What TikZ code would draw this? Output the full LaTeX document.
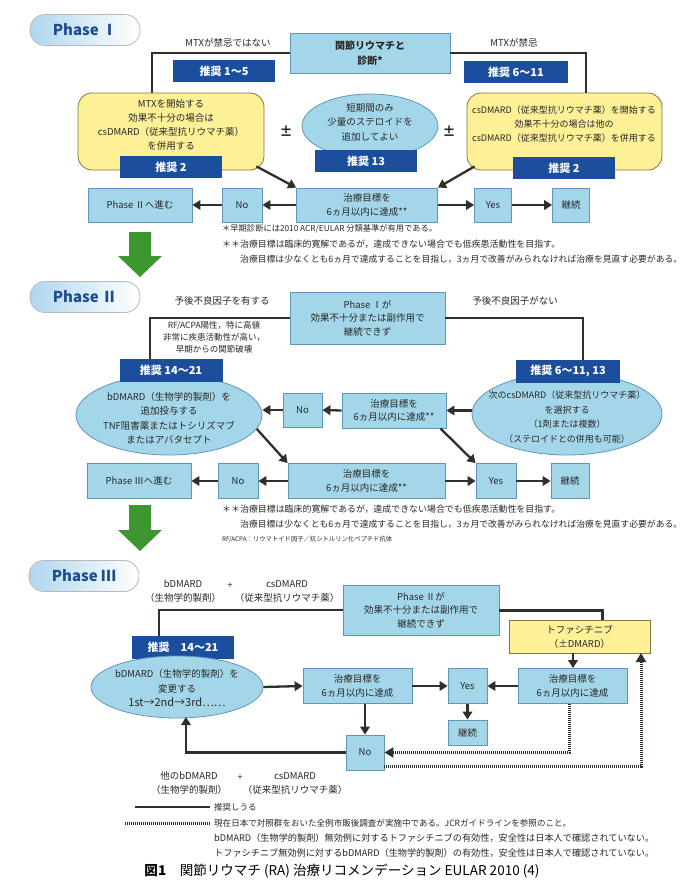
\documentclass[tikz,border=0pt]{standalone}
\usepackage{fontspec}
\setmainfont{Noto Sans CJK JP}
\usetikzlibrary{arrows.meta,calc,shapes.geometric}
\definecolor{lblue}{RGB}{164,214,234}
\definecolor{bblue}{RGB}{96,150,185}
\definecolor{dblue}{RGB}{28,78,158}
\definecolor{yel}{RGB}{253,240,150}
\definecolor{ybord}{RGB}{130,118,70}
\definecolor{lnc}{RGB}{48,48,40}
\definecolor{grn}{RGB}{62,150,48}
\definecolor{pillb}{RGB}{175,214,238}
\definecolor{ptxt}{RGB}{30,75,140}
\definecolor{txt}{RGB}{40,40,40}
\newcommand\fsz[2]{\fontsize{#1}{#2}\selectfont}
\newcommand\fitw[2]{\resizebox{#1}{!}{#2}}
\tikzset{
 lb/.style={draw=bblue, fill=lblue, line width=0.8pt, align=center, inner sep=0pt, text=txt, font=\fsz{9.5}{13.5}},
 rec/.style={fill=dblue, text=white, font=\bfseries\fsz{11}{13}, inner sep=0pt, minimum height=22pt},
 yelbox/.style={draw=ybord, fill=yel, line width=0.8pt, rounded corners=14pt, inner sep=0pt},
 ell/.style={ellipse, draw=bblue, fill=lblue, line width=0.8pt, inner sep=0pt},
 ln/.style={draw=lnc, line width=2.3pt},
 arr/.style={ln, -{Triangle[width=9.5pt,length=8pt]}},
 dot/.style={draw=lnc, line width=3pt, dash pattern=on 1.1pt off 0.9pt},
 darr/.style={dot, -{Triangle[width=10pt,length=9pt]}},
 lbl/.style={font=\fsz{9.5}{13}, text=txt, align=center, inner sep=0pt},
 note/.style={font=\fsz{8.5}{10}, text=txt, anchor=west, inner sep=0pt},
 pill/.style={draw=gray!55, line width=0.8pt, rounded corners=15pt, left color=pillb, right color=white, minimum width=110pt, minimum height=31pt, font=\bfseries\fsz{15}{16}, text=ptxt},
}
\begin{document}
\begin{tikzpicture}[x=1pt,y=-1pt]
\useasboundingbox (0,0) rectangle (684,881);
\fill[white] (0,0) rectangle (684,881);

%% ---------------- Phase I ----------------
\node[pill] (ph1) at (85,30) {Phase Ⅰ};
\node[lb, minimum width=160pt, minimum height=40pt, font=\bfseries\fsz{10}{15}] (top1) at (370,53) {関節リウマチと\\診断*};
\node[lbl] (l1a) at (228,43) {MTXが禁忌ではない};
\node[lbl] (l1b) at (514,43) {MTXが禁忌};
\node[rec, minimum width=102pt] (r15) at (224,71) {推奨 1～5};
\node[rec, minimum width=104pt] (r611) at (516,72) {推奨 6～11};

\node[yelbox, minimum width=186pt, minimum height=77pt] (y1L) at (171,131.5) {};
\node[lbl, font=\fsz{9.5}{14}] (y1Lt) at (171,125) {MTXを開始する\\効果不十分の場合は\\csDMARD（従来型抗リウマチ薬）\\を併用する};
\node[rec, minimum width=102pt] (r2L) at (171,167) {推奨 2};

\node[ell, minimum width=136pt, minimum height=64pt] (e1) at (370,126) {};
\node[lbl, font=\fsz{9.5}{14.5}] (e1t) at (370,122) {短期間のみ\\少量のステロイドを\\追加してよい};
\node[rec, minimum width=102pt] (r13) at (366,161) {推奨 13};

\node[lbl, font=\bfseries\fsz{13}{13}] (pm1) at (286,131) {±};
\node[lbl, font=\bfseries\fsz{13}{13}] (pm2) at (449,131) {±};

\node[yelbox, minimum width=195pt, minimum height=77pt] (y1R) at (564.5,131.5) {};
\node[lbl, font=\fsz{9}{14}] (y1Rt) at (564,124) {csDMARD（従来型抗リウマチ薬）を開始する\\効果不十分の場合は他の\\csDMARD（従来型抗リウマチ薬）を併用する};
\node[rec, minimum width=102pt] (r2R) at (564,168) {推奨 2};

\coordinate (j1) at (152,93);
\coordinate (j2) at (586,93);
\draw[ln] (top1.west) -| (j1);
\draw[ln] (top1.east) -| (j2);

\node[lb, minimum width=104pt, minimum height=34pt] (go2) at (140,205) {Phase Ⅱへ進む};
\node[lb, minimum width=40pt, minimum height=34pt] (no1) at (242,205) {No};
\node[lb, minimum width=141pt, minimum height=34pt] (goal1) at (367,205) {治療目標を\\6ヵ月以内に達成**};
\node[lb, minimum width=37pt, minimum height=34pt] (yes1) at (493,205) {Yes};
\node[lb, minimum width=37pt, minimum height=34pt] (cont1) at (571,205) {継続};

\draw[arr] (goal1.west) -- (no1.east);
\draw[arr] (no1.west) -- (go2.east);
\draw[arr] (goal1.east) -- (yes1.west);
\draw[arr] (yes1.east) -- (cont1.west);
\draw[arr] ($(y1L.south east)+(-8,-4)$) -- (goal1.north west);
\draw[arr] ($(y1R.south west)+(8,-4)$) -- (goal1.north east);

\node[note] (n1a) at (222,229) {\fitw{215pt}{＊早期診断には2010 ACR/EULAR 分類基準が有用である。}};
\node[note] (n1b) at (222,244) {\fitw{338pt}{＊＊治療目標は臨床的寛解であるが，達成できない場合でも低疾患活動性を目指す。}};
\node[note] (n1c) at (240,259) {\fitw{442pt}{治療目標は少なくとも6ヵ月で達成することを目指し，3ヵ月で改善がみられなければ治療を見直す必要がある。}};

\fill[grn] (129,232) -- (151,232) -- (151,256) -- (162,256) -- (140,277) -- (118,256) -- (129,256) -- cycle;

%% ---------------- Phase II ----------------
\node[pill] (ph2) at (85,297) {Phase Ⅱ};
\node[lb, minimum width=155pt, minimum height=52pt] (top2) at (367.5,318) {Phase Ⅰが\\効果不十分または副作用で\\継続できず};
\node[lbl] (l2a) at (222,301) {予後不良因子を有する};
\node[lbl] (l2b) at (515,301) {予後不良因子がない};
\node[lbl, font=\fsz{8.5}{12}] (rf) at (214,337) {RF/ACPA陽性，特に高値\\非常に疾患活動性が高い，\\早期からの関節破壊};

\node[ell, minimum width=186pt, minimum height=80pt] (ellL2) at (169,415) {};
\node[lbl, font=\fsz{9.5}{14.5}] (ellL2t) at (169,418) {bDMARD（生物学的製剤）を\\追加投与する\\TNF阻害薬またはトシリズマブ\\またはアバタセプト};
\node[rec, minimum width=103pt, minimum height=23pt] (r1421) at (171,370.5) {推奨 14～21};

\node[ell, minimum width=190pt, minimum height=82pt] (ellR2) at (567,414) {};
\node[lbl, font=\fsz{9}{14.5}] (ellR2t) at (567,417) {次のcsDMARD（従来型抗リウマチ薬）\\を選択する\\（1剤または複数）\\（ステロイドとの併用も可能）};
\node[rec, minimum width=104pt, minimum height=23pt] (r61113) at (568,371.5) {推奨 6～11, 13};

\coordinate (j3) at (150,359);
\coordinate (j4) at (583,360);
\draw[ln] (top2.west) -| (j3);
\draw[ln] (top2.east) -| (j4);

\node[lb, minimum width=39pt, minimum height=34pt] (no2m) at (302.5,410) {No};
\node[lb, minimum width=104pt, minimum height=35pt] (goal2m) at (394,410.5) {治療目標を\\6ヵ月以内に達成**};

\draw[arr] (ellR2.west |- goal2m.east) -- (goal2m.east);
\draw[arr] (goal2m.west) -- (no2m.east);
\draw[arr] (no2m.west) -- (ellL2.east |- no2m.west);

\node[lb, minimum width=104pt, minimum height=35pt] (go3) at (139,481) {Phase Ⅲへ進む};
\node[lb, minimum width=40pt, minimum height=35pt] (no2b) at (238,481) {No};
\node[lb, minimum width=157pt, minimum height=35pt] (goal2b) at (366.5,481) {治療目標を\\6ヵ月以内に達成**};
\node[lb, minimum width=40pt, minimum height=35pt] (yes2) at (496,481) {Yes};
\node[lb, minimum width=38pt, minimum height=35pt] (cont2) at (570,481) {継続};

\draw[arr] (ellL2.-9) -- (goal2b.north west);
\draw[arr] ($(goal2m.south east)+(-6,0)$) -- (yes2.north west);
\draw[arr] (goal2b.west) -- (no2b.east);
\draw[arr] (no2b.west) -- (go3.east);
\draw[arr] (goal2b.east) -- (yes2.west);
\draw[arr] (yes2.east) -- (cont2.west);

\node[note] (n2a) at (222,509) {\fitw{338pt}{＊＊治療目標は臨床的寛解であるが，達成できない場合でも低疾患活動性を目指す。}};
\node[note] (n2b) at (240,524) {\fitw{442pt}{治療目標は少なくとも6ヵ月で達成することを目指し，3ヵ月で改善がみられなければ治療を見直す必要がある。}};
\node[note] (n2c) at (222,539) {\fitw{170pt}{RF/ACPA：リウマトイド因子／抗シトルリン化ペプチド抗体}};

\fill[grn] (129,505) -- (151,505) -- (151,530) -- (162,530) -- (140,551) -- (118,530) -- (129,530) -- cycle;

%% ---------------- Phase III ----------------
\node[pill] (ph3) at (84,576) {Phase Ⅲ};
\node[lbl, font=\fsz{9.5}{14}] (l3a) at (183,591) {bDMARD\\（生物学的製剤）};
\node[lbl, font=\fsz{9}{9}] (l3p) at (230,586) {+};
\node[lbl, font=\fsz{9.5}{14}] (l3b) at (287,591) {csDMARD\\（従来型抗リウマチ薬）};

\node[lb, minimum width=156pt, minimum height=50pt] (top3) at (421,610) {Phase Ⅱが\\効果不十分または副作用で\\継続できず};
\node[rec, minimum width=102pt, minimum height=23pt] (r3) at (183,647.5) {推奨　14～21};
\node[ell, minimum width=172pt, minimum height=62pt] (ell3) at (177,687) {};
\node[lbl, font=\fsz{9.5}{14.5}] (ell3t) at (177,688) {bDMARD（生物学的製剤）を\\変更する\\{\fsz{11}{14.5}1st→2nd→3rd……}};

\coordinate (j5) at (159,636);
\draw[ln] (top3.west) -| (j5);

\node[yelbox, rounded corners=0pt, minimum width=141pt, minimum height=33pt, align=center, font=\fsz{9.5}{14}, text=txt] (tofa) at (579.5,636.5) {トファシチニブ\\（±DMARD）};
\coordinate (j6) at (602,620);
\draw[dot] (top3.east) -| (j6);

\node[lb, minimum width=109pt, minimum height=35pt] (goal3) at (357.5,686) {治療目標を\\6ヵ月以内に達成};
\node[lb, minimum width=39pt, minimum height=35pt] (yes3) at (467.5,686) {Yes};
\node[lb, minimum width=39pt, minimum height=25pt] (cont3) at (467.5,732.5) {継続};
\node[lb, minimum width=109pt, minimum height=35pt] (goal3R) at (572.5,686) {治療目標を\\6ヵ月以内に達成};
\node[lb, minimum width=38pt, minimum height=35pt] (no3) at (365,752.5) {No};

\draw[arr] (ell3.east) -- (goal3.west);
\draw[arr] (goal3.east) -- (yes3.west);
\draw[arr] (goal3R.west) -- (yes3.east);
\draw[arr] (tofa.south -| 573,0) -- (goal3R.north -| 573,0);
\draw[arr] (yes3.south) -- (cont3.north);
\draw[arr] (goal3.south -| no3.north) -- (no3.north);

\coordinate (k3) at (186,717);
\draw[arr] (no3.west) -| (k3);
\draw[darr] (goal3R.south -| 569,0) |- (no3.east);
\coordinate (k1) at (384,766);
\coordinate (k2) at (641,653);
\draw[darr] (k1) -| (k2);

\node[lbl, font=\fsz{9.5}{14}] (l3c) at (189,783) {他のbDMARD\\（生物学的製剤）};
\node[lbl, font=\fsz{9}{9}] (l3q) at (240,778) {+};
\node[lbl, font=\fsz{9.5}{14}] (l3d) at (295,783) {csDMARD\\（従来型抗リウマチ薬）};

%% ---------------- Legend ----------------
\coordinate (lg1a) at (135,807);
\coordinate (lg1b) at (210,807);
\coordinate (lg2a) at (125,823);
\coordinate (lg2b) at (210,823);
\draw[ln] (lg1a) -- (lg1b);
\draw[dot] (lg2a) -- (lg2b);
\node[note] (lt1) at (214,807) {推奨しうる};
\node[note] (lt2) at (214,823) {\fitw{357pt}{現在日本で対照群をおいた全例市販後調査が実施中である。JCRガイドラインを参照のこと。}};
\node[note] (lt3) at (214,838) {\fitw{440pt}{bDMARD（生物学的製剤）無効例に対するトファシチニブの有効性，安全性は日本人で確認されていない。}};
\node[note] (lt4) at (214,853) {\fitw{440pt}{トファシチニブ無効例に対するbDMARD（生物学的製剤）の有効性，安全性は日本人で確認されていない。}};

\node[inner sep=0pt, text=black] (cap) at (342,871) {\fitw{395pt}{\fsz{11}{12}\textbf{図1}　関節リウマチ (RA) 治療リコメンデーション EULAR 2010 (4)}};
\end{tikzpicture}
\end{document}
